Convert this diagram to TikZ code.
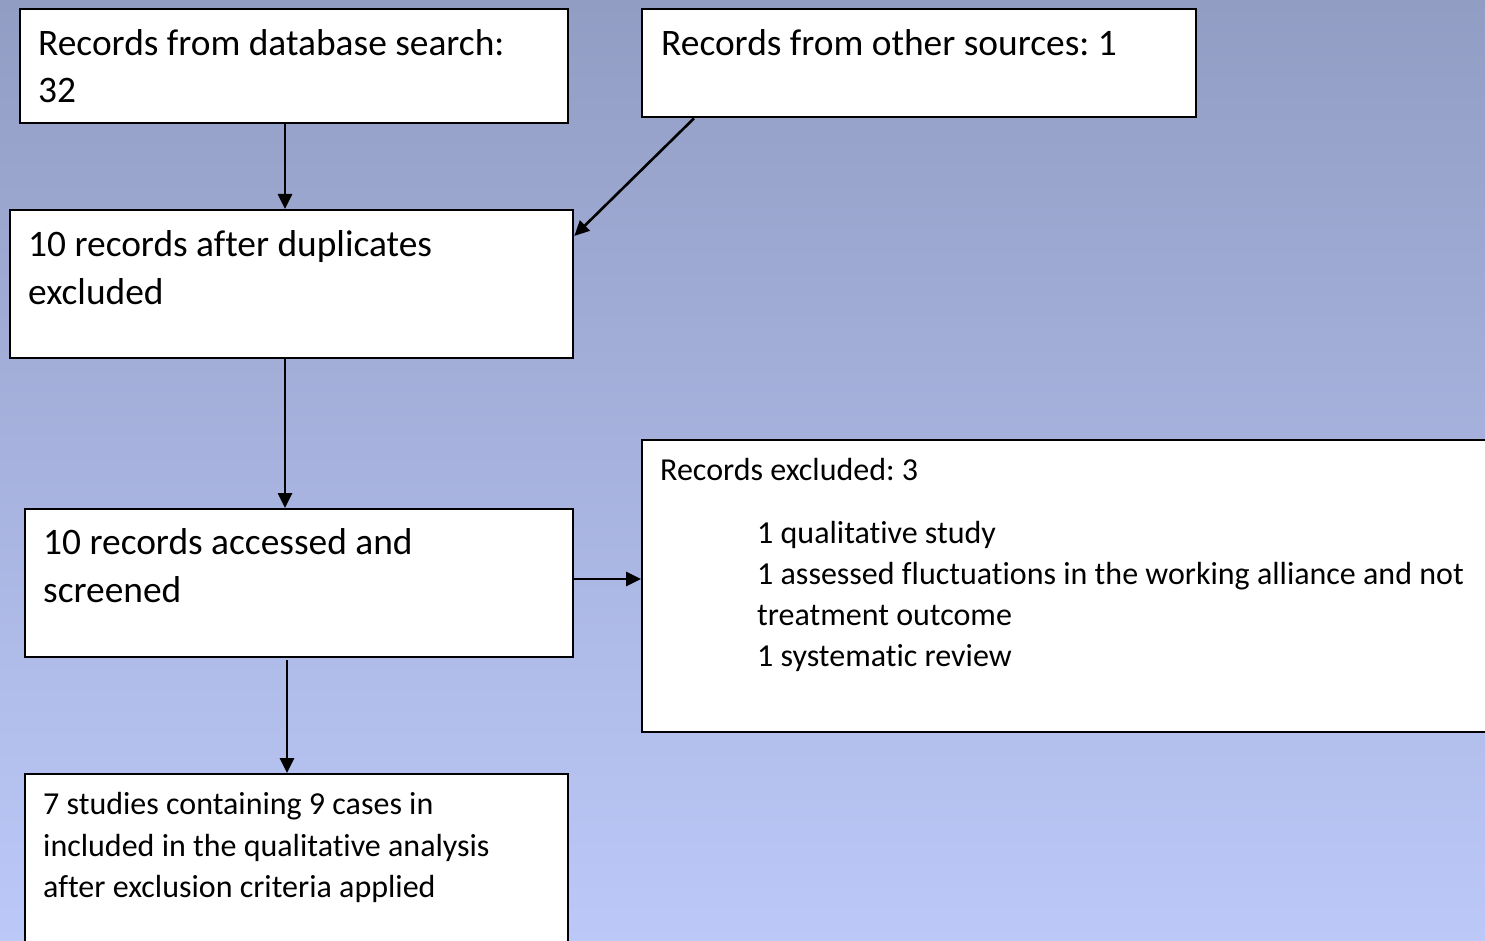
\documentclass[tikz,border=0pt]{standalone}
\usepackage{fontspec}
\setmainfont{Carlito}[Ligatures={NoCommon}]
\usetikzlibrary{arrows.meta}
\definecolor{bgtop}{RGB}{146,157,196}
\definecolor{bgbot}{RGB}{188,200,248}
\frenchspacing
\begin{document}
\begin{tikzpicture}[x=1pt,y=-1pt,
  boxstyle/.style={draw=black,line width=2.3pt,fill=white,anchor=north west,inner sep=0pt,rectangle},
  bigtxt/.style={anchor=base west,inner sep=0pt,font=\fontsize{37.4}{44}\selectfont},
  smalltxt/.style={anchor=base west,inner sep=0pt,font=\fontsize{32}{38}\selectfont},
  arr/.style={line width=2.6pt,-{Triangle[length=15pt,width=14pt]}}]
\useasboundingbox (0,0) rectangle (1485,941);
\shade[top color=bgtop,bottom color=bgbot] (0,0) rectangle (1485,941);
\clip (0,0) rectangle (1485,941);
% boxes
\node[boxstyle,minimum width=548pt,minimum height=114pt] (a) at (19,8) {};
\node[boxstyle,minimum width=554pt,minimum height=108pt] (b) at (641,8) {};
\node[boxstyle,minimum width=563pt,minimum height=148pt] (c) at (9,209) {};
\node[boxstyle,minimum width=548pt,minimum height=148pt] (d) at (24,508) {};
\node[boxstyle,minimum width=880pt,minimum height=292pt] (e) at (641,439) {};
\node[boxstyle,minimum width=543pt,minimum height=200pt] (f) at (24,773) {};
% texts
\node[bigtxt] (a1) at (38,56) {Records from database search:};
\node[bigtxt] (a2) at (38,103) {32};
\node[bigtxt] (b1) at (661,56) {Records from other sources: 1};
\node[bigtxt] (c1) at (28,257) {10 records after duplicates};
\node[bigtxt] (c2) at (28,304) {excluded};
\node[bigtxt] (d1) at (43,554) {10 records accessed and};
\node[bigtxt] (d2) at (43,602) {screened};
\node[smalltxt] (e1) at (660,480) {Records excluded: 3};
\node[smalltxt] (e2) at (757,543) {1 qualitative study};
\node[smalltxt] (e3) at (757,584) {1 assessed fluctuations in the working alliance and not};
\node[smalltxt] (e4) at (757,625) {treatment outcome};
\node[smalltxt] (e5) at (757,666) {1 systematic review};
\node[smalltxt] (f1) at (43,814) {7 studies containing 9 cases in};
\node[smalltxt] (f2) at (43,856) {included in the qualitative analysis};
\node[smalltxt] (f3) at (43,897) {after exclusion criteria applied};
% connectors
\draw[arr] (285,0 |- a.south) -- (285,0 |- c.north);
\draw[arr] (694,0 |- b.south) -- (c.east |- 0,236);
\draw[arr] (285,0 |- c.south) -- (285,0 |- d.north);
\draw[arr] (287,660) -- (287,0 |- f.north);
\draw[arr] (d.east |- 0,579) -- (e.west |- 0,579);
\end{tikzpicture}
\end{document}
